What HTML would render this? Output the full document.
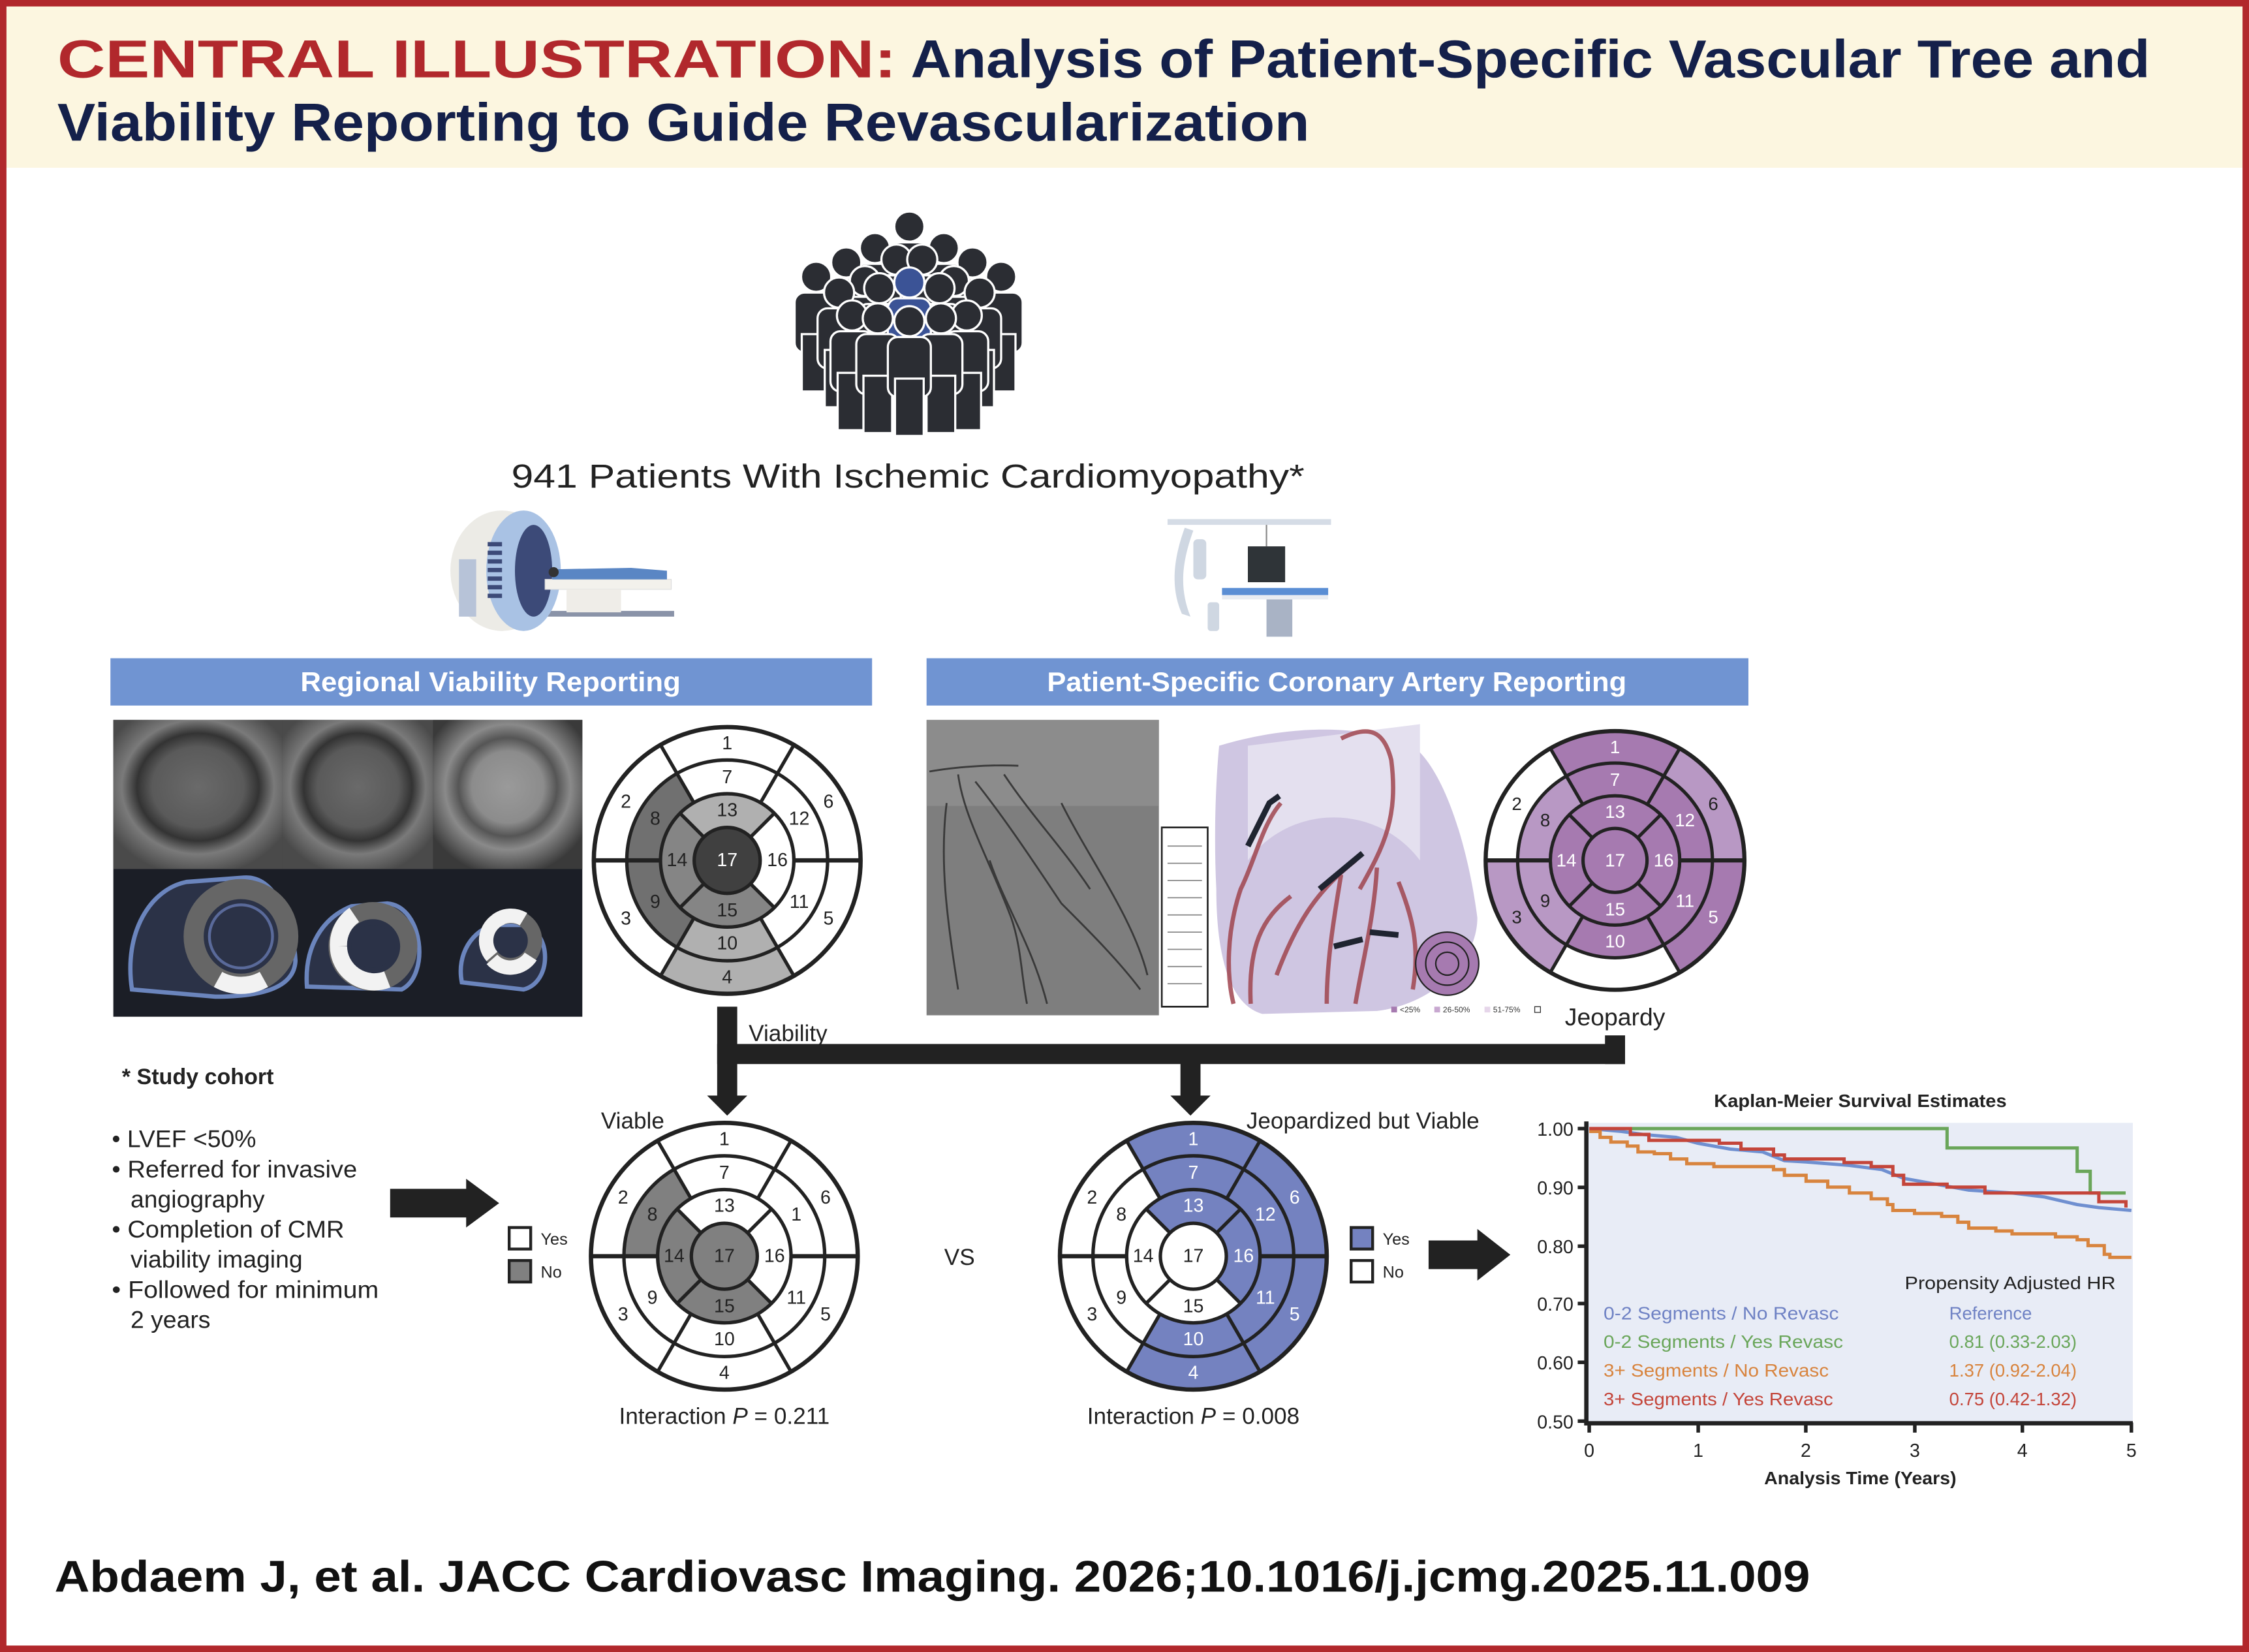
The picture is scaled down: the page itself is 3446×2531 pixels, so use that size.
<!DOCTYPE html>
<html><head><meta charset="utf-8"><style>
html,body{margin:0;padding:0;background:#fff}
svg{display:block}
text{font-family:"Liberation Sans",sans-serif}
</style></head><body>
<svg width="3446" height="2531" viewBox="0 0 1568 1152" preserveAspectRatio="none" xmlns="http://www.w3.org/2000/svg">
<defs>
<g id="bx" fill="none" stroke="#222" stroke-width="2.4">
<circle r="93" stroke-width="3"/><circle r="70"/><circle r="46.5"/><circle r="23"/>
<line x1="46.5" y1="0" x2="93" y2="0" stroke-width="3"/><line x1="-46.5" y1="0" x2="-93" y2="0" stroke-width="3"/>
<line x1="23.25" y1="40.27" x2="46.5" y2="80.54"/><line x1="-23.25" y1="40.27" x2="-46.5" y2="80.54"/>
<line x1="23.25" y1="-40.27" x2="46.5" y2="-80.54"/><line x1="-23.25" y1="-40.27" x2="-46.5" y2="-80.54"/>
<line x1="16.26" y1="16.26" x2="32.88" y2="32.88"/><line x1="-16.26" y1="16.26" x2="-32.88" y2="32.88"/>
<line x1="16.26" y1="-16.26" x2="32.88" y2="-32.88"/><line x1="-16.26" y1="-16.26" x2="-32.88" y2="-32.88"/>
</g>
<g id="fig">
<rect x="-15" y="11" width="30" height="42" rx="7" stroke="#fff" stroke-width="1.5"/>
<rect x="-10" y="40" width="20" height="40" stroke="#fff" stroke-width="1.5"/>
<circle r="10.5" stroke="#fff" stroke-width="1.5"/>
</g>
</defs>

<rect x="0" y="0" width="1568" height="1152" fill="#fff"/>
<rect x="2" y="2" width="1564" height="115" fill="#fcf6e0"/>
<rect x="2.25" y="2.25" width="1563.5" height="1147.5" fill="none" stroke="#b1282c" stroke-width="4.5"/>
<text x="40" y="54" font-size="37" font-weight="bold" fill="#b1282c" textLength="585" lengthAdjust="spacingAndGlyphs">CENTRAL ILLUSTRATION:</text>
<text x="635" y="54" font-size="37" font-weight="bold" fill="#14204a" textLength="864" lengthAdjust="spacingAndGlyphs">Analysis of Patient-Specific Vascular Tree and</text>
<text x="40" y="98" font-size="37" font-weight="bold" fill="#14204a" textLength="873" lengthAdjust="spacingAndGlyphs">Viability Reporting to Guide Revascularization</text>

<g fill="#2b2d33">
<use href="#fig" x="634" y="158"/>
<use href="#fig" x="610" y="173"/><use href="#fig" x="658" y="173"/>
<use href="#fig" x="590" y="183"/><use href="#fig" x="678" y="183"/>
<use href="#fig" x="569" y="193" /><use href="#fig" x="698" y="193"/>
<use href="#fig" x="625" y="181"/><use href="#fig" x="643" y="181"/>
<use href="#fig" x="603" y="196"/><use href="#fig" x="665" y="196"/>
<use href="#fig" x="585" y="204"/><use href="#fig" x="683" y="204"/>
<use href="#fig" x="613" y="201"/><use href="#fig" x="655" y="201"/>
<use href="#fig" x="634" y="197" fill="#3b5396"/>
<use href="#fig" x="594" y="220"/><use href="#fig" x="674" y="220"/>
<use href="#fig" x="612" y="222"/><use href="#fig" x="656" y="222"/>
<use href="#fig" x="634" y="224"/>
</g>
<text x="633" y="340" font-size="23" text-anchor="middle" fill="#222" textLength="553" lengthAdjust="spacingAndGlyphs">941 Patients With Ischemic Cardiomyopathy*</text>

<g>
<rect x="328" y="426" width="142" height="4" fill="#8a93a8"/>
<ellipse cx="350" cy="398" rx="36" ry="42" fill="#ecebe6"/>
<rect x="320" y="390" width="12" height="40" fill="#b7c3d8"/>
<ellipse cx="365" cy="398" rx="26" ry="42" fill="#a9c2e4"/>
<ellipse cx="372" cy="398" rx="13" ry="32" fill="#3c4a78"/>
<g fill="#3c4a78"><rect x="340" y="378" width="10" height="3"/><rect x="340" y="384" width="10" height="3"/><rect x="340" y="390" width="10" height="3"/><rect x="340" y="396" width="10" height="3"/><rect x="340" y="402" width="10" height="3"/><rect x="340" y="408" width="10" height="3"/><rect x="340" y="414" width="10" height="3"/></g>
<rect x="380" y="404" width="88" height="7" fill="#f3f1ec" stroke="#ddd" stroke-width="0.5"/>
<rect x="395" y="411" width="38" height="16" fill="#efede8"/>
<path d="M385,397 L440,396 L465,398 L465,404 L385,404 Z" fill="#5a86c4"/>
<circle cx="386" cy="399" r="3.5" fill="#333"/>
</g>
<g>
<rect x="814" y="362" width="114" height="4" fill="#d5dce6"/>
<path d="M826,368 C818,390 816,410 824,428 L830,430 C822,410 824,392 832,370 Z" fill="#cfd7e2"/>
<rect x="832" y="376" width="9" height="28" rx="3" fill="#cfd7e2"/>
<rect x="842" y="420" width="8" height="20" rx="2" fill="#cfd7e2"/>
<rect x="870" y="381" width="26" height="25" fill="#2f3438"/>
<line x1="883" y1="366" x2="883" y2="381" stroke="#888" stroke-width="1"/>
<rect x="852" y="410" width="74" height="5" fill="#5a8ed4"/>
<rect x="852" y="415" width="74" height="3" fill="#e8ecf2"/>
<rect x="883" y="418" width="18" height="26" fill="#a9b3c5"/>
</g>

<rect x="77" y="459" width="531" height="33" fill="#7094d2"/>
<text x="342" y="482" font-size="19" font-weight="bold" fill="#fff" text-anchor="middle" textLength="265" lengthAdjust="spacingAndGlyphs">Regional Viability Reporting</text>
<rect x="646" y="459" width="573" height="33" fill="#7094d2"/>
<text x="932" y="482" font-size="19" font-weight="bold" fill="#fff" text-anchor="middle" textLength="404" lengthAdjust="spacingAndGlyphs">Patient-Specific Coronary Artery Reporting</text>

<defs>
<radialGradient id="mr1" cx="0.5" cy="0.45" r="0.6"><stop offset="0" stop-color="#6a6a6a"/><stop offset="0.45" stop-color="#5a5a5a"/><stop offset="0.6" stop-color="#333"/><stop offset="0.75" stop-color="#7a7a7a"/><stop offset="1" stop-color="#4a4a4a"/></radialGradient>
<radialGradient id="mr3" cx="0.5" cy="0.45" r="0.6"><stop offset="0" stop-color="#9a9a9a"/><stop offset="0.4" stop-color="#8c8c8c"/><stop offset="0.55" stop-color="#555"/><stop offset="0.7" stop-color="#8a8a8a"/><stop offset="1" stop-color="#3a3a3a"/></radialGradient>
</defs>
<rect x="79" y="502" width="327" height="207" fill="#1b1e26"/>
<rect x="79" y="502" width="118" height="104" fill="url(#mr1)"/>
<rect x="197" y="502" width="105" height="104" fill="url(#mr1)"/>
<rect x="302" y="502" width="104" height="104" fill="url(#mr3)"/>
<g fill="#2b3247" stroke="#6b85bd" stroke-width="3">
<path d="M92,690 C86,650 105,620 130,615 L170,612 C195,610 205,650 206,670 C205,690 180,695 150,695 Z"/>
<path d="M214,688 C212,660 225,640 245,632 L270,630 C295,632 300,680 280,690 Z"/>
<path d="M322,685 C318,665 330,648 345,645 L365,645 C385,650 385,685 365,690 Z"/>
</g>
<g fill="none">
<circle cx="168" cy="653" r="33" stroke="#666" stroke-width="14"/>
<circle cx="168" cy="653" r="22" fill="#2b3247" stroke="#5a6a9a" stroke-width="2"/>
<path d="M152,683 A33,33 0 0 0 184,683" stroke="#f2f2f2" stroke-width="12"/>
<circle cx="260" cy="660" r="25" stroke="#666" stroke-width="12"/>
<path d="M236,660 A25,25 0 0 1 247,638 M236,660 A25,25 0 0 0 270,683" stroke="#f2f2f2" stroke-width="12"/>
<circle cx="260" cy="660" r="15" fill="#2b3247"/>
<circle cx="356" cy="656" r="17" stroke="#666" stroke-width="10"/>
<path d="M343,667 A17,17 0 0 1 350,640 M346,642 A17,17 0 0 1 365,641 M343,669 A17,17 0 0 0 370,667" stroke="#f2f2f2" stroke-width="10"/>
<circle cx="356" cy="656" r="9" fill="#2b3247"/>
</g>

<rect x="646" y="502" width="162" height="206" fill="#7e7e7e"/>
<rect x="646" y="502" width="162" height="60" fill="#9a9a9a" opacity="0.5"/>
<g fill="none" stroke="#2e2e2e" stroke-width="1.3" opacity="0.85">
<path d="M648,538 C665,535 690,533 710,534"/>
<path d="M668,540 C672,570 690,600 705,640 C712,660 712,680 716,700"/>
<path d="M680,545 C700,570 720,600 740,630 C760,650 780,670 795,690"/>
<path d="M700,540 C720,570 740,590 760,620"/>
<path d="M660,560 C655,600 660,640 668,690"/>
<path d="M690,600 C700,630 720,660 730,700"/>
<path d="M740,560 C760,600 790,640 800,680"/>
</g>
<rect x="810" y="577" width="32" height="125" fill="#fff" stroke="#222" stroke-width="1.2"/>
<g stroke="#888" stroke-width="0.8"><line x1="814" y1="590" x2="838" y2="590"/><line x1="814" y1="602" x2="838" y2="602"/><line x1="814" y1="614" x2="838" y2="614"/><line x1="814" y1="626" x2="838" y2="626"/><line x1="814" y1="638" x2="838" y2="638"/><line x1="814" y1="650" x2="838" y2="650"/><line x1="814" y1="662" x2="838" y2="662"/><line x1="814" y1="674" x2="838" y2="674"/><line x1="814" y1="686" x2="838" y2="686"/></g>

<path d="M850,520 C900,505 950,505 985,520 C1010,540 1025,600 1030,640 C1030,670 1000,700 960,705 L880,707 C855,700 848,660 848,620 C846,580 848,540 850,520 Z" fill="#cfc6e2"/>
<path d="M870,520 L990,505 L990,600 C960,560 900,560 870,600 Z" fill="#e4e0ef"/>
<g fill="none" stroke="#a0454f" stroke-width="3" opacity="0.85">
<path d="M935,515 C955,505 965,510 970,530 C975,570 965,590 948,620"/>
<path d="M893,560 C880,575 875,600 865,620 C855,650 855,680 860,700"/>
<path d="M945,600 C920,620 905,640 890,680"/>
<path d="M935,610 C930,640 925,670 925,700"/>
<path d="M960,605 C958,640 950,670 945,700"/>
<path d="M975,615 C985,640 990,660 985,690"/>
<path d="M900,625 C880,640 870,660 872,700"/>
</g>
<g fill="none" stroke="#1f2430" stroke-width="4"><path d="M870,590 L885,560 L892,555"/><path d="M920,620 L950,595"/><path d="M930,660 L950,655"/><path d="M955,650 L975,652"/></g>
<circle cx="1009" cy="672" r="22" fill="#a67ab0" stroke="#222" stroke-width="1"/>
<circle cx="1009" cy="672" r="15" fill="none" stroke="#222" stroke-width="1"/><circle cx="1009" cy="672" r="8" fill="none" stroke="#222" stroke-width="1"/>
<g font-size="5.5" fill="#333"><rect x="970" y="702" width="4" height="4" fill="#a67ab0"/><text x="976" y="706">&lt;25%</text><rect x="1000" y="702" width="4" height="4" fill="#c8a8d0"/><text x="1006" y="706">26-50%</text><rect x="1035" y="702" width="4" height="4" fill="#e6d6ea"/><text x="1041" y="706">51-75%</text><rect x="1070" y="702" width="4" height="4" fill="#fff" stroke="#333" stroke-width="0.6"/></g>

<g transform="translate(507,600)" fill="none">
<circle r="81.5" stroke="#b0b0b0" stroke-width="23" pathLength="360" stroke-dasharray="60 300" transform="rotate(60)"/>
<circle r="58.25" stroke="#b0b0b0" stroke-width="23.5" pathLength="360" stroke-dasharray="60 300" transform="rotate(60)"/>
<circle r="58.25" stroke="#707070" stroke-width="23.5" pathLength="360" stroke-dasharray="120 240" transform="rotate(120)"/>
<circle r="34.75" stroke="#b0b0b0" stroke-width="23.5" pathLength="360" stroke-dasharray="90 270" transform="rotate(-135)"/>
<circle r="34.75" stroke="#858585" stroke-width="23.5" pathLength="360" stroke-dasharray="180 180" transform="rotate(45)"/>
<circle r="23" fill="#404040"/>
<use href="#bx"/>
<g font-size="13" fill="#222" text-anchor="middle" dominant-baseline="central">
<text x="0" y="-81.5">1</text><text x="-70.6" y="-40.75">2</text><text x="-70.6" y="40.75">3</text><text x="0" y="81.5">4</text><text x="70.6" y="40.75">5</text><text x="70.6" y="-40.75">6</text>
<text x="0" y="-58">7</text><text x="-50.2" y="-29">8</text><text x="-50.2" y="29">9</text><text x="0" y="58">10</text><text x="50.2" y="29">11</text><text x="50.2" y="-29">12</text>
<text x="0" y="-35">13</text><text x="-35" y="0">14</text><text x="0" y="35">15</text><text x="35" y="0">16</text><text x="0" y="0" fill="#fff">17</text>
</g></g>

<g transform="translate(1126,600) scale(0.97)" fill="none">
<circle r="81.5" stroke="#a67ab0" stroke-width="23" pathLength="360" stroke-dasharray="180 180" transform="rotate(-120)"/>
<circle r="81.5" stroke="#b898c4" stroke-width="23" pathLength="360" stroke-dasharray="60 300" transform="rotate(-60)"/>
<circle r="81.5" stroke="#b898c4" stroke-width="23" pathLength="360" stroke-dasharray="60 300" transform="rotate(120)"/>
<circle r="58.25" stroke="#a67ab0" stroke-width="23.5"/>
<circle r="58.25" stroke="#b898c4" stroke-width="23.5" pathLength="360" stroke-dasharray="120 240" transform="rotate(120)"/>
<circle r="34.75" stroke="#a67ab0" stroke-width="23.5"/>
<circle r="23" fill="#a67ab0"/>
<use href="#bx"/>
<g font-size="13" fill="#fff" text-anchor="middle" dominant-baseline="central">
<text x="0" y="-81.5">1</text><text x="-70.6" y="-40.75" fill="#222">2</text><text x="-70.6" y="40.75" fill="#222">3</text><text x="0" y="81.5">4</text><text x="70.6" y="40.75">5</text><text x="70.6" y="-40.75" fill="#222">6</text>
<text x="0" y="-58">7</text><text x="-50.2" y="-29" fill="#222">8</text><text x="-50.2" y="29" fill="#222">9</text><text x="0" y="58">10</text><text x="50.2" y="29">11</text><text x="50.2" y="-29">12</text>
<text x="0" y="-35">13</text><text x="-35" y="0">14</text><text x="0" y="35">15</text><text x="35" y="0">16</text><text x="0" y="0">17</text>
</g></g>
<text x="1126" y="715" font-size="17" text-anchor="middle" fill="#222">Jeopardy</text>

<g fill="#222">
<rect x="500" y="702" width="14" height="64"/>
<polygon points="493,764 521,764 507,778"/>
<rect x="500" y="728" width="633" height="14"/>
<rect x="1119" y="722" width="14" height="20"/>
<rect x="823" y="735" width="14" height="31"/>
<polygon points="816,764 844,764 830,778"/>
<polygon points="272,829 325,829 325,822 348,839 325,856 325,849 272,849"/>
<polygon points="996,865 1030,865 1030,857 1053,875 1030,893 1030,885 996,885"/>
</g>
<text x="522" y="726" font-size="16" fill="#222">Viability</text>

<text x="85" y="756" font-size="15.5" font-weight="bold" fill="#222">* Study cohort</text>
<g font-size="17" fill="#222">
<text x="78" y="800">• LVEF &lt;50%</text>
<text x="78" y="821" textLength="171" lengthAdjust="spacingAndGlyphs">• Referred for invasive</text>
<text x="91" y="842">angiography</text>
<text x="78" y="863" textLength="162" lengthAdjust="spacingAndGlyphs">• Completion of CMR</text>
<text x="91" y="884">viability imaging</text>
<text x="78" y="905" textLength="186" lengthAdjust="spacingAndGlyphs">• Followed for minimum</text>
<text x="91" y="926">2 years</text>
</g>

<rect x="355" y="856" width="15" height="15" fill="#fff" stroke="#222" stroke-width="2"/>
<rect x="355" y="879" width="15" height="15" fill="#808080" stroke="#222" stroke-width="2"/>
<text x="377" y="868" font-size="11.5" fill="#222">Yes</text>
<text x="377" y="891" font-size="11.5" fill="#222">No</text>

<text x="419" y="787" font-size="16" fill="#222">Viable</text>
<g transform="translate(505,876)" fill="none">
<circle r="58.25" stroke="#808080" stroke-width="23.5" pathLength="360" stroke-dasharray="60 300" transform="rotate(180)"/>
<circle r="34.75" stroke="#808080" stroke-width="23.5" pathLength="360" stroke-dasharray="180 180" transform="rotate(45)"/>
<circle r="23" fill="#808080"/>
<use href="#bx"/>
<g font-size="13" fill="#222" text-anchor="middle" dominant-baseline="central">
<text x="0" y="-81.5">1</text><text x="-70.6" y="-40.75">2</text><text x="-70.6" y="40.75">3</text><text x="0" y="81.5">4</text><text x="70.6" y="40.75">5</text><text x="70.6" y="-40.75">6</text>
<text x="0" y="-58">7</text><text x="-50.2" y="-29">8</text><text x="-50.2" y="29">9</text><text x="0" y="58">10</text><text x="50.2" y="29">11</text><text x="50.2" y="-29">1</text>
<text x="0" y="-35">13</text><text x="-35" y="0">14</text><text x="0" y="35">15</text><text x="35" y="0">16</text><text x="0" y="0">17</text>
</g></g>
<text x="505" y="993" font-size="16" text-anchor="middle" fill="#222">Interaction <tspan font-style="italic">P</tspan> = 0.211</text>
<text x="669" y="882" font-size="16" text-anchor="middle" fill="#222">VS</text>

<text x="869" y="787" font-size="16" fill="#222">Jeopardized but Viable</text>
<g transform="translate(832,876)" fill="none">
<circle r="81.5" stroke="#7482c0" stroke-width="23" pathLength="360" stroke-dasharray="240 120" transform="rotate(-120)"/>
<circle r="58.25" stroke="#7482c0" stroke-width="23.5" pathLength="360" stroke-dasharray="240 120" transform="rotate(-120)"/>
<circle r="34.75" stroke="#7482c0" stroke-width="23.5" pathLength="360" stroke-dasharray="180 180" transform="rotate(-135)"/>
<circle r="23" fill="#fff"/>
<use href="#bx"/>
<g font-size="13" fill="#fff" text-anchor="middle" dominant-baseline="central">
<text x="0" y="-81.5">1</text><text x="-70.6" y="-40.75" fill="#222">2</text><text x="-70.6" y="40.75" fill="#222">3</text><text x="0" y="81.5">4</text><text x="70.6" y="40.75">5</text><text x="70.6" y="-40.75">6</text>
<text x="0" y="-58">7</text><text x="-50.2" y="-29" fill="#222">8</text><text x="-50.2" y="29" fill="#222">9</text><text x="0" y="58">10</text><text x="50.2" y="29">11</text><text x="50.2" y="-29">12</text>
<text x="0" y="-35">13</text><text x="-35" y="0" fill="#222">14</text><text x="0" y="35" fill="#222">15</text><text x="35" y="0">16</text><text x="0" y="0" fill="#222">17</text>
</g></g>
<text x="832" y="993" font-size="16" text-anchor="middle" fill="#222">Interaction <tspan font-style="italic">P</tspan> = 0.008</text>
<rect x="942" y="856" width="15" height="15" fill="#7482c0" stroke="#222" stroke-width="2"/>
<rect x="942" y="879" width="15" height="15" fill="#fff" stroke="#222" stroke-width="2"/>
<text x="964" y="868" font-size="11.5" fill="#222">Yes</text>
<text x="964" y="891" font-size="11.5" fill="#222">No</text>

<text x="1297" y="772" font-size="12.5" font-weight="bold" text-anchor="middle" fill="#222" textLength="204" lengthAdjust="spacingAndGlyphs">Kaplan-Meier Survival Estimates</text>
<rect x="1107" y="783" width="380" height="209" fill="#e8ecf6"/>
<g fill="none" stroke-width="2.3">
<path d="M1108,787 H1357.5 V800.5 H1448.2 V816.8 H1457.3 V831.9 H1482" stroke="#6aa65a"/>
<polyline points="1108,787 1130.7,789 1145.8,791.1 1168.5,793.1 1183.6,797.2 1206.3,801.3 1229,803.3 1244.1,809.4 1259.2,810.3 1289.4,812.7 1312.1,815.6 1327.2,821.7 1349.9,825.8 1372.6,829.9 1402.8,831.9 1425.5,834.7 1448.2,840 1463.3,842.1 1486,844.1" stroke="#6f8fd0"/>
<path d="M1108,789 H1115.6 V793.1 H1123.1 V796.4 H1134.5 V799.2 H1142 V803.3 H1153.4 V804.5 H1164.7 V808.2 H1176 V811.5 H1194.9 V813.5 H1236.5 V815.6 H1244.1 V819.6 H1259.2 V823.7 H1274.3 V827.8 H1289.4 V831.9 H1304.6 V836 H1315.9 V840 H1319.7 V844.1 H1334.8 V846.2 H1353.7 V848.2 H1365 V852.3 H1372.6 V856.4 H1391.5 V858.4 H1402.8 V860.4 H1433.1 V862.5 H1448.2 V864.5 H1455.8 V868.6 H1467.1 V874.7 H1471 V876.8 H1486" stroke="#d8843e"/>
<path d="M1108,787 H1136.7 V791.1 H1149.6 V795.2 H1198.7 V797.2 H1213.8 V801.3 H1236.5 V805.4 H1244.1 V808.2 H1285.7 V810.7 H1304.6 V813.5 H1319.7 V819.6 H1327.2 V825.8 H1357.5 V827.8 H1383.9 V831.9 H1463.3 V838 H1482.2 V842.1" stroke="#c4453a"/>
</g>
<g stroke="#222" stroke-width="3" fill="none">
<line x1="1106" y1="782" x2="1106" y2="994"/><line x1="1104.5" y1="992.5" x2="1487" y2="992.5"/>
</g>
<g stroke="#222" stroke-width="2.5">
<line x1="1100" y1="787" x2="1106" y2="787"/><line x1="1100" y1="828" x2="1106" y2="828"/><line x1="1100" y1="869" x2="1106" y2="869"/><line x1="1100" y1="909" x2="1106" y2="909"/><line x1="1100" y1="950" x2="1106" y2="950"/><line x1="1100" y1="991" x2="1106" y2="991"/>
<line x1="1108" y1="992" x2="1108" y2="999"/><line x1="1184" y1="992" x2="1184" y2="999"/><line x1="1259" y1="992" x2="1259" y2="999"/><line x1="1335" y1="992" x2="1335" y2="999"/><line x1="1410" y1="992" x2="1410" y2="999"/><line x1="1486" y1="992" x2="1486" y2="999"/>
</g>
<g font-size="13" fill="#222" text-anchor="end">
<text x="1097" y="792">1.00</text><text x="1097" y="833">0.90</text><text x="1097" y="874">0.80</text><text x="1097" y="914">0.70</text><text x="1097" y="955">0.60</text><text x="1097" y="996">0.50</text>
</g>
<g font-size="13" fill="#222" text-anchor="middle">
<text x="1108" y="1016">0</text><text x="1184" y="1016">1</text><text x="1259" y="1016">2</text><text x="1335" y="1016">3</text><text x="1410" y="1016">4</text><text x="1486" y="1016">5</text>
</g>
<text x="1297" y="1035" font-size="12.5" font-weight="bold" text-anchor="middle" fill="#222" textLength="134" lengthAdjust="spacingAndGlyphs">Analysis Time (Years)</text>
<text x="1328" y="899" font-size="12.5" fill="#222" textLength="147" lengthAdjust="spacingAndGlyphs">Propensity Adjusted HR</text>
<g font-size="12.5">
<text x="1118" y="920" fill="#6f82c4" textLength="164" lengthAdjust="spacingAndGlyphs">0-2 Segments / No Revasc</text>
<text x="1118" y="940" fill="#6aa65a" textLength="167" lengthAdjust="spacingAndGlyphs">0-2 Segments / Yes Revasc</text>
<text x="1118" y="960" fill="#d8843e" textLength="157" lengthAdjust="spacingAndGlyphs">3+ Segments / No Revasc</text>
<text x="1118" y="980" fill="#c4453a" textLength="160" lengthAdjust="spacingAndGlyphs">3+ Segments / Yes Revasc</text>
<text x="1359" y="920" fill="#6f82c4">Reference</text>
<text x="1359" y="940" fill="#6aa65a">0.81 (0.33-2.03)</text>
<text x="1359" y="960" fill="#d8843e">1.37 (0.92-2.04)</text>
<text x="1359" y="980" fill="#c4453a">0.75 (0.42-1.32)</text>
</g>

<text x="38" y="1110" font-size="31" font-weight="bold" fill="#111" textLength="1224" lengthAdjust="spacingAndGlyphs">Abdaem J, et al. JACC Cardiovasc Imaging. 2026;10.1016/j.jcmg.2025.11.009</text>
</svg>
</body></html>
